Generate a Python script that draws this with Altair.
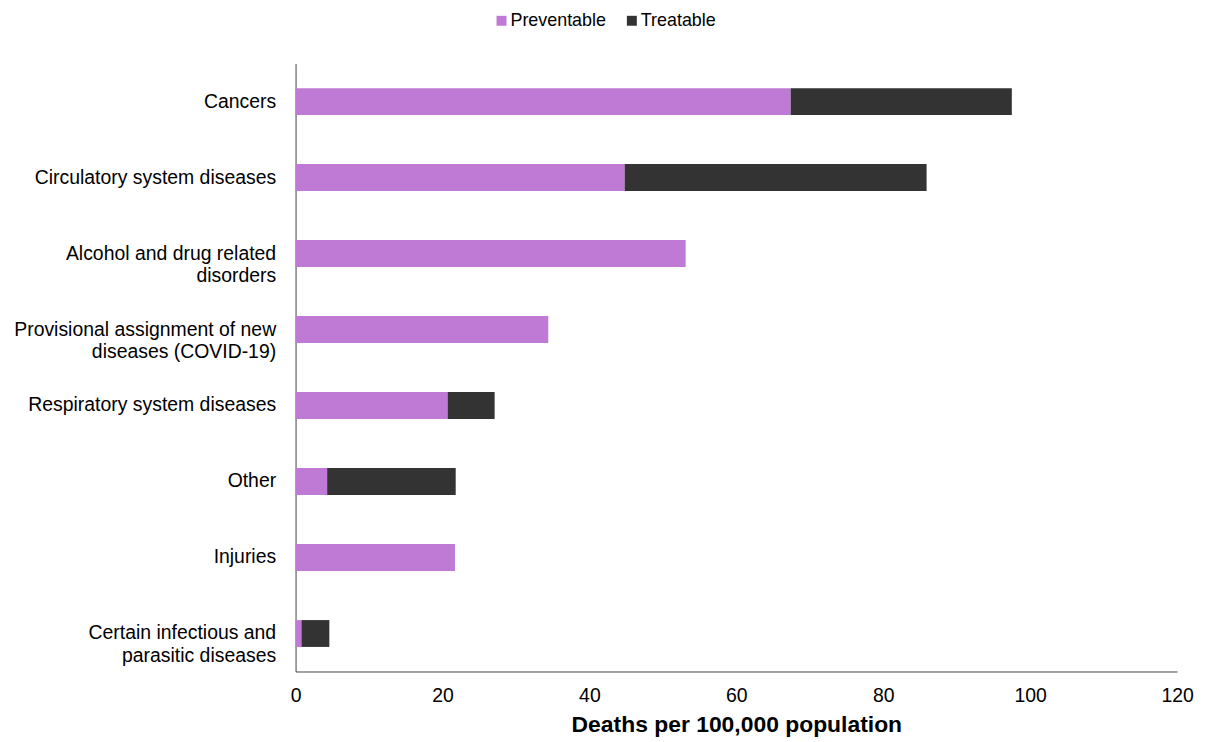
import altair as alt
import pandas as pd

categories = [
    "Cancers",
    "Circulatory system diseases",
    "Alcohol and drug related\ndisorders",
    "Provisional assignment of new\ndiseases (COVID-19)",
    "Respiratory system diseases",
    "Other",
    "Injuries",
    "Certain infectious and\nparasitic diseases",
]
preventable = [67.4, 44.8, 53.1, 34.4, 20.7, 4.3, 21.7, 0.8]
treatable = [30.1, 41.1, 0.0, 0.0, 6.4, 17.5, 0.0, 3.8]
series = ["Preventable", "Treatable"]
colors = ["#BF7AD5", "#333333"]

rows = []
for c, p, t in zip(categories, preventable, treatable):
    rows.append({"cat": c, "type": "Preventable", "val": p, "ord": 0})
    rows.append({"cat": c, "type": "Treatable", "val": t, "ord": 1})
df = pd.DataFrame(rows)

font = "Liberation Sans"

chart = alt.Chart(df).mark_bar(size=27).encode(
    y=alt.Y("cat:N", sort=categories, title=None,
            axis=alt.Axis(labelExpr="split(datum.value, '\\n')", labelFontSize=19.5,
                          labelColor="#000", labelFont=font, ticks=False,
                          labelLineHeight=23,
                          labelPadding=20, domainColor="#444", labelLimit=400)),
    x=alt.X("val:Q", stack="zero",
            scale=alt.Scale(domain=[0, 120]),
            title="Deaths per 100,000 population",
            axis=alt.Axis(values=[0, 20, 40, 60, 80, 100, 120], grid=False, ticks=False,
                          labelFontSize=19.5, labelColor="#000", labelFont=font,
                          labelFlush=False,
                          labelPadding=15, domainColor="#444",
                          titleFontSize=23, titleFont=font, titleFontWeight="bold",
                          titleColor="#000", titlePadding=9)),
    color=alt.Color("type:N", scale=alt.Scale(domain=series, range=colors),
                    legend=alt.Legend(title=None, orient="none", direction="horizontal",
                                      legendX=198, legendY=-52, symbolType="square",
                                      symbolSize=100, labelFontSize=18, labelFont=font,
                                      labelColor="#000", symbolStrokeWidth=0,
                                      columnPadding=16, labelOffset=0)),
    order=alt.Order("ord:Q"),
).properties(
    width=886, height=611, background="white",
    padding={"left": 5, "top": 2, "right": 5, "bottom": 0},
).configure_view(strokeWidth=0, stroke=None)

chart.save("out.html", embed_options={"renderer": "svg", "actions": False})
